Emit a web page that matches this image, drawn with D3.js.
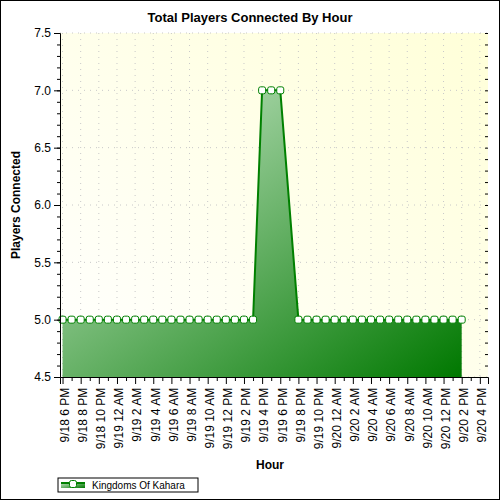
<!DOCTYPE html>
<html><head><meta charset="utf-8">
<script src="https://cdn.jsdelivr.net/npm/d3@7"></script>
<style>body{margin:0;background:#fff}text{font-family:Arial,"Liberation Sans",sans-serif}</style>
</head><body><div id="chart"></div>
<script>
// hours since 9/18 6 PM, and players connected
const hours = [0,1,2,3,4,5,6,7,8,9,10,11,12,13,14,15,16,17,18,19,20,21,22,23,24,26,27,28,29,30,31,32,33,34,35,36,37,38,39,40,41,42,43,44];
const players = [5,5,5,5,5,5,5,5,5,5,5,5,5,5,5,5,5,5,5,5,5,5,7,7,7,5,5,5,5,5,5,5,5,5,5,5,5,5,5,5,5,5,5,5];
const tickLabels = ["9/18 6 PM","9/18 8 PM","9/18 10 PM","9/19 12 AM","9/19 2 AM","9/19 4 AM","9/19 6 AM","9/19 8 AM","9/19 10 AM","9/19 12 PM","9/19 2 PM","9/19 4 PM","9/19 6 PM","9/19 8 PM","9/19 10 PM","9/20 12 AM","9/20 2 AM","9/20 4 AM","9/20 6 AM","9/20 8 AM","9/20 10 AM","9/20 12 PM","9/20 2 PM","9/20 4 PM"];
const seriesName = "Kingdoms Of Kahara";

const data = hours.map((h, i) => ({h: h, v: players[i]}));
const margin = {top: 33, left: 60, right: 12, bottom: 123};
const W = 500, H = 500;
const width = W - margin.left - margin.right, height = H - margin.top - margin.bottom;

const svg = d3.select("#chart").append("svg").attr("width", W).attr("height", H);
svg.append("rect").attr("x", 0.5).attr("y", 0.5).attr("width", W - 1).attr("height", H - 1)
  .attr("fill", "#fff").attr("stroke", "#000");

const defs = svg.append("defs");
const bg = defs.append("linearGradient").attr("id", "bg").attr("x1", 0).attr("y1", 1).attr("x2", 1).attr("y2", 0);
bg.append("stop").attr("offset", 0).attr("stop-color", "#ffffff");
bg.append("stop").attr("offset", 1).attr("stop-color", "#ffffd8");
const fg = defs.append("linearGradient").attr("id", "fg").attr("x1", 0).attr("y1", 0).attr("x2", 1).attr("y2", 1);
fg.append("stop").attr("offset", 0).attr("stop-color", "#d0ecd0");
fg.append("stop").attr("offset", 1).attr("stop-color", "#007800");

const g = svg.append("g").attr("transform", `translate(${margin.left},${margin.top})`);
const x = d3.scaleLinear().domain([-0.28, 46.9]).range([0, width]);
const y = d3.scaleLinear().domain([4.5, 7.5]).range([height, 0]);

g.append("rect").attr("width", width).attr("height", height).attr("fill", "url(#bg)");

// grid
g.selectAll(".gy").data(d3.range(4.5, 7.51, 0.5)).enter().append("line")
  .attr("x1", 0).attr("x2", width).attr("y1", d => y(d)).attr("y2", d => y(d))
  .attr("stroke", "#c8c8c8").attr("stroke-dasharray", "1,5");
g.selectAll(".gx").data(d3.range(0, 47, 2)).enter().append("line")
  .attr("x1", d => x(d)).attr("x2", d => x(d)).attr("y1", 0).attr("y2", height)
  .attr("stroke", "#c8c8c8").attr("stroke-dasharray", "1,5");

const area = d3.area().x(d => x(d.h)).y0(height).y1(d => y(d.v));
g.append("path").datum(data).attr("d", area).attr("fill", "url(#fg)");
g.append("path").datum(data).attr("d", d3.line().x(d => x(d.h)).y(d => y(d.v)))
  .attr("fill", "none").attr("stroke", "#008000").attr("stroke-width", 2);
g.selectAll(".pt").data(data).enter().append("rect")
  .attr("x", d => x(d.h) - 3.5).attr("y", d => y(d.v) - 3.5).attr("width", 7).attr("height", 7)
  .attr("rx", 2).attr("fill", "#fff").attr("stroke", "#008000").attr("stroke-width", 1);

// y axis
const ya = g.append("g").call(d3.axisLeft(y).tickValues(d3.range(4.5, 7.51, 0.5)).tickFormat(d3.format(".1f")).tickSize(6));
ya.selectAll("text").attr("font-size", 12).attr("fill", "#000");
g.append("g").call(d3.axisLeft(y).tickValues(d3.range(4.5, 7.51, 0.1)).tickFormat("").tickSize(3)).select(".domain").remove();
g.append("g").attr("transform", `translate(${width},0)`).call(d3.axisLeft(y).tickValues(d3.range(4.5, 7.51, 0.1)).tickFormat("").tickSize(3)).select(".domain").remove();

// x axis
const xa = g.append("g").attr("transform", `translate(0,${height})`)
  .call(d3.axisBottom(x).tickValues(d3.range(0, 47, 2)).tickFormat((d, i) => tickLabels[i]).tickSize(7));
xa.selectAll("text").attr("font-size", 12).attr("fill", "#000")
  .attr("transform", "rotate(-90)").attr("text-anchor", "end").attr("dx", "-0.9em").attr("dy", "-0.35em");
g.append("g").attr("transform", `translate(0,${height})`)
  .call(d3.axisBottom(x).tickValues(d3.range(1, 47, 2)).tickFormat("").tickSize(4)).select(".domain").remove();

svg.append("text").attr("x", 250).attr("y", 22).attr("text-anchor", "middle")
  .attr("font-size", 13).attr("font-weight", "bold").text("Total Players Connected By Hour");
svg.append("text").attr("x", 270).attr("y", 469).attr("text-anchor", "middle")
  .attr("font-size", 12).attr("font-weight", "bold").text("Hour");
svg.append("text").attr("transform", "translate(20,205) rotate(-90)").attr("text-anchor", "middle")
  .attr("font-size", 12).attr("font-weight", "bold").text("Players Connected");

// legend
const lg = svg.append("g").attr("transform", "translate(58,478)");
lg.append("rect").attr("width", 140).attr("height", 14).attr("fill", "#fff").attr("stroke", "#000");
lg.append("rect").attr("x", 3).attr("y", 4).attr("width", 24).attr("height", 6).attr("fill", "url(#fg)");
lg.append("line").attr("x1", 3).attr("x2", 27).attr("y1", 5).attr("y2", 5).attr("stroke", "#008000").attr("stroke-width", 2);
lg.append("rect").attr("x", 11.5).attr("y", 2.5).attr("width", 7).attr("height", 7).attr("rx", 2)
  .attr("fill", "#fff").attr("stroke", "#008000");
lg.append("text").attr("x", 34).attr("y", 11).attr("font-size", 10).text(seriesName);
</script></body></html>
